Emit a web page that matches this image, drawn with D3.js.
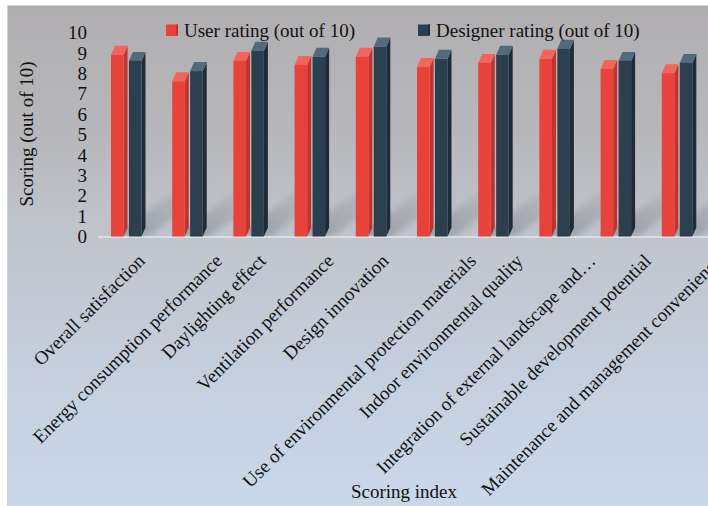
<!DOCTYPE html>
<html>
<head>
<meta charset="utf-8">
<script src="https://cdn.jsdelivr.net/npm/d3@7"></script>
<style>
  html, body { margin: 0; padding: 0; background: #ffffff; }
  svg { display: block; }
  text { font-family: "Liberation Serif", "Times New Roman", serif; fill: #111; }
</style>
</head>
<body>
<svg id="chart" width="708" height="506"></svg>
<script>
// Scoring indices and the two rating series (out of 10)
const categories = [
  "Overall satisfaction",
  "Energy consumption performance",
  "Daylighting effect",
  "Ventilation performance",
  "Design innovation",
  "Use of environmental protection materials",
  "Indoor environmental quality",
  "Integration of external landscape and\u2026",
  "Sustainable development potential",
  "Maintenance and management convenience"
];
const userRating     = [8.9, 7.6, 8.6, 8.4, 8.8, 8.3, 8.5, 8.7, 8.2, 8.0];
const designerRating = [8.6, 8.1, 9.1, 8.8, 9.3, 8.7, 8.9, 9.2, 8.6, 8.5];
const seriesNames = ["User rating (out of 10)", "Designer rating (out of 10)"];
const yTicks = [0, 1, 2, 3, 4, 5, 6, 7, 8, 9, 10];

const svg = d3.select("#chart");
const W = 708, H = 506;

// colour sets for each series: front / top / side
const palette = [
  { front: "#e9423a", top: "#f2645c", side: "#c1332c" },
  { front: "#2c3f4f", top: "#536a7a", side: "#1d2c38" }
];

const defs = svg.append("defs");

// chart background gradient: warm grey at top to pale blue at bottom
const bg = defs.append("linearGradient").attr("id", "bgGrad")
  .attr("x1", 0).attr("y1", 0).attr("x2", 0).attr("y2", 1);
[[0, "#b0aeb0"], [0.25, "#b7b7bb"], [0.48, "#c1c6ce"], [1, "#cad8ec"]]
  .forEach(([o, c]) => bg.append("stop").attr("offset", o).attr("stop-color", c));

// floor shadow gradient and softening blur
const sh = defs.append("linearGradient").attr("id", "shadowGrad")
  .attr("x1", 0).attr("y1", 1).attr("x2", 1).attr("y2", 0);
sh.append("stop").attr("offset", 0).attr("stop-color", "#6d7078").attr("stop-opacity", 0.55);
sh.append("stop").attr("offset", 1).attr("stop-color", "#8a8d96").attr("stop-opacity", 0);
defs.append("filter").attr("id", "soft").attr("x", "-20%").attr("y", "-20%")
  .attr("width", "140%").attr("height", "140%")
  .append("feGaussianBlur").attr("stdDeviation", 3);

const plotTop = 32.3, plotBottom = 236.5;
defs.append("clipPath").attr("id", "plotClip")
  .append("rect").attr("x", 90).attr("y", 0).attr("width", W).attr("height", plotBottom);

// chart area
svg.append("rect").attr("x", 7.5).attr("y", 5.5).attr("width", W + 10).attr("height", H)
  .attr("fill", "url(#bgGrad)").attr("stroke", "#d8d8d8").attr("stroke-width", 1);

// scales
const y = d3.scaleLinear().domain([0, 10]).range([plotBottom, plotTop]);
const x = d3.scaleBand().domain(categories).range([98, 710]).paddingInner(0).paddingOuter(0);
const xs = d3.scaleBand().domain(seriesNames).range([13, 43.5]).paddingInner(0.3).paddingOuter(0);
const depthX = 4, depthY = -9;

// floor shadows behind each group
const shadowLen = 70, shadowSlope = 0.72;
svg.append("g").attr("clip-path", "url(#plotClip)")
  .selectAll("polygon").data(categories).join("polygon")
  .attr("points", d => {
    const x0 = x(d) + 14, x1 = x(d) + 50;
    const dx = shadowLen, dy = shadowLen * shadowSlope;
    return [[x0, plotBottom], [x1, plotBottom], [x1 + dx, plotBottom - dy], [x0 + dx, plotBottom - dy]]
      .map(p => p.join(",")).join(" ");
  })
  .attr("fill", "url(#shadowGrad)")
  .attr("filter", "url(#soft)");

// floor edge
svg.append("line").attr("x1", 98).attr("x2", W).attr("y1", plotBottom + 0.5).attr("y2", plotBottom + 0.5)
  .attr("stroke", "#e4e6ec").attr("stroke-width", 1.5);

// 3D columns
const bars = [];
categories.forEach((c, i) => {
  [userRating[i], designerRating[i]].forEach((v, s) => {
    bars.push({ cat: c, s, v });
  });
});
const bw = xs.bandwidth();
const barG = svg.append("g").selectAll("g").data(bars).join("g");
barG.append("polygon") // side face
  .attr("points", d => {
    const xr = x(d.cat) + xs(seriesNames[d.s]) + bw, yt = y(d.v), yb = y(0);
    return [[xr, yb], [xr + depthX, yb + depthY], [xr + depthX, yt + depthY], [xr, yt]]
      .map(p => p.join(",")).join(" ");
  })
  .attr("fill", d => palette[d.s].side);
barG.append("polygon") // top face
  .attr("points", d => {
    const xl = x(d.cat) + xs(seriesNames[d.s]), yt = y(d.v);
    return [[xl, yt], [xl + bw, yt], [xl + bw + depthX, yt + depthY], [xl + depthX, yt + depthY]]
      .map(p => p.join(",")).join(" ");
  })
  .attr("fill", d => palette[d.s].top);
barG.append("rect") // front face
  .attr("x", d => x(d.cat) + xs(seriesNames[d.s]))
  .attr("y", d => y(d.v))
  .attr("width", bw)
  .attr("height", d => y(0) - y(d.v))
  .attr("fill", d => palette[d.s].front);

// value axis labels
const yAxis = d3.axisLeft(y).tickValues(yTicks).tickSize(0).tickPadding(0);
const yG = svg.append("g").attr("transform", "translate(87,0)").call(yAxis);
yG.select(".domain").remove();
yG.selectAll("text").attr("font-size", 19).attr("fill", "#111")
  .attr("font-family", "'Liberation Serif', 'Times New Roman', serif")
  .attr("dy", "0.33em");

// value axis title
svg.append("text").attr("transform", "translate(33,134) rotate(-90)")
  .attr("text-anchor", "middle").attr("font-size", 19).text("Scoring (out of 10)");

// category labels, rotated
const labels = svg.append("g").selectAll("text").data(categories).join("text")
  .attr("text-anchor", "end").attr("font-size", 19).text(d => d);
labels.each(function (d) {
  const L = this.getComputedTextLength();
  const cx = x(d) + x.bandwidth() / 2;
  const ex = cx - 4 + 0.145 * L, ey = 262;
  d3.select(this).attr("transform", `translate(${ex},${ey}) rotate(-45)`);
});

// category axis title
svg.append("text").attr("x", 404).attr("y", 498).attr("text-anchor", "middle")
  .attr("font-size", 19).text("Scoring index");

// legend
const legendPos = [166, 418];
const lg = svg.append("g").selectAll("g").data(seriesNames).join("g")
  .attr("transform", (d, i) => `translate(${legendPos[i]},24)`);
lg.append("rect").attr("x", 0).attr("y", 0.5).attr("width", 10).attr("height", 11.5)
  .attr("fill", (d, i) => palette[i].front);
lg.append("polygon").attr("points", "10,0.5 12,0 12,11.5 10,12")
  .attr("fill", (d, i) => palette[i].side);
lg.append("text").attr("x", 18).attr("y", 12.5).attr("font-size", 19).text(d => d);
</script>
</body>
</html>
